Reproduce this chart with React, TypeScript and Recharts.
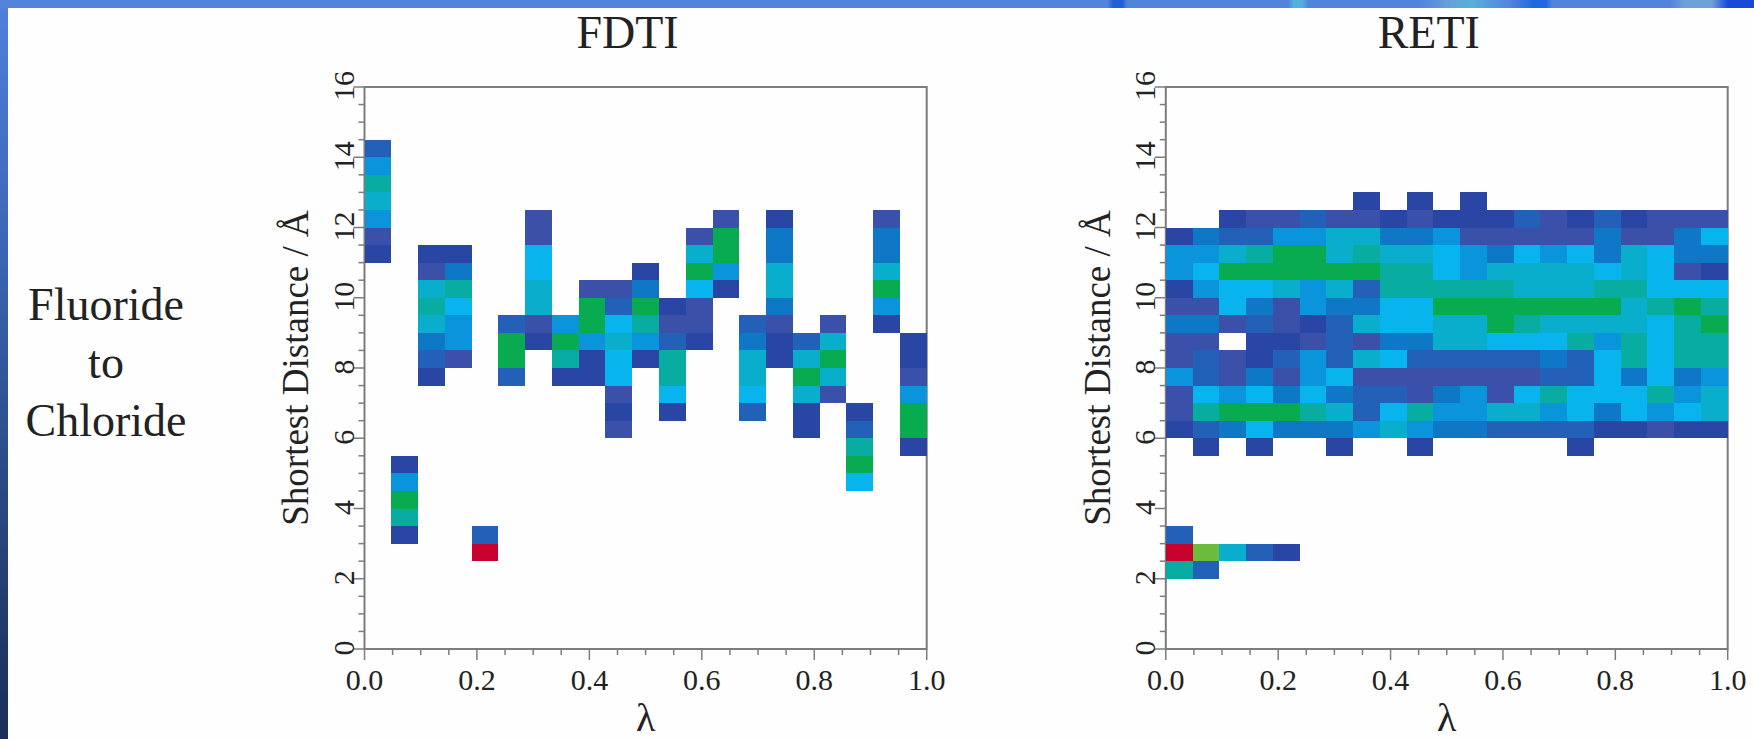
import React from "react";
import { ScatterChart, Scatter, XAxis, YAxis, ReferenceArea } from "recharts";

// levels: 1 = lowest population (dark blue) ... 9 = green, l = light green, r = red (highest)
const LEVEL_COLORS: Record<string, string> = {
  "1": "#2a46a4",
  "2": "#3b50a8",
  "3": "#2360b8",
  "4": "#0f78c6",
  "5": "#0a94dc",
  "6": "#08b4ee",
  "7": "#08aecb",
  "8": "#08aca0",
  "9": "#08ab50",
  l: "#6cbb3c",
  r: "#c8002e",
};

const BIN_COUNT = 21;
const BIN_HEIGHT = 0.5;

// FDTI, one entry per lambda window: top edge of the filled run, then levels going down
const FDTI_TOPS = [14.5, 5.5, 11.5, 11.5, 3.5, 9.5, 12.5, 9.5, 10.5, 10.5, 11, 10, 12, 12.5, 9.5, 12.5, 9, 9.5, 7, 12.5, 9];
const FDTI_RUNS = [
  "3587521",
  "15981",
  "12787431",
  "1486552",
  "3r",
  "3993",
  "22667721",
  "5981",
  "299511",
  "236766212",
  "149851",
  "1238861",
  "2796221",
  "29951",
  "347763",
  "144774211",
  "379711",
  "27972",
  "13896",
  "2447951",
  "1125991",
];

// RETI, one string per distance row from the top, one char per lambda window
const RETI_TOP = 13;
const RETI_ROWS = [
  ".......1.1.1.........",
  "..1223221211132131222",
  "143355774452222242246",
  "557899787765465647644",
  "569999998865777767621",
  "156675738888877788666",
  "226425446699999997898",
  "442321376677987777689",
  "22.112324477666858688",
  "232135376333334368688",
  "532425622222223364645",
  "265646433245268666857",
  "289998736855775646567",
  "134644457544333311211",
  ".1.1..1..1.....1.....",
  ".....................",
  ".....................",
  ".....................",
  ".....................",
  "3....................",
  "rl731................",
  "83...................",
];

const X_TICKS = [0, 0.05, 0.1, 0.15, 0.2, 0.25, 0.3, 0.35, 0.4, 0.45, 0.5, 0.55, 0.6, 0.65, 0.7, 0.75, 0.8, 0.85, 0.9, 0.95, 1];
const Y_TICKS = [0, 0.5, 1, 1.5, 2, 2.5, 3, 3.5, 4, 4.5, 5, 5.5, 6, 6.5, 7, 7.5, 8, 8.5, 9, 9.5, 10, 10.5, 11, 11.5, 12, 12.5, 13, 13.5, 14, 14.5, 15, 15.5, 16];
const SIDE_LABEL = ["Fluoride", "to", "Chloride"];

type Cell = { x: number; y: number; level: string };

const cell = (col: number, top: number, level: string): Cell => ({
  x: (col + 0.5) / BIN_COUNT,
  y: top - BIN_HEIGHT / 2,
  level,
});

const fdtiCells: Cell[] = FDTI_RUNS.flatMap((run, col) =>
  run.split("").map((level, i) => cell(col, FDTI_TOPS[col] - i * BIN_HEIGHT, level))
);
const retiCells: Cell[] = RETI_ROWS.flatMap((row, r) =>
  row
    .split("")
    .map((level, col) => cell(col, RETI_TOP - r * BIN_HEIGHT, level))
    .filter((c) => c.level !== ".")
);

const SERIF = "'Liberation Serif', serif";
const AXIS_GRAY = "#7c7c7c";
const TEXT = "#222222";
const CHART_H = 739;
const PLOT_TOP = 87;
const X_AXIS_H = 90;

function isMajor(v: number, step: number) {
  return Math.abs(v / step - Math.round(v / step)) < 1e-6;
}

function XTick({ x, y, payload }: any) {
  const major = isMajor(payload.value, 0.2);
  return (
    <g>
      <line x1={x} x2={x} y1={y} y2={y + (major ? 11 : 6)} stroke={AXIS_GRAY} strokeWidth={1.5} />
      {major && (
        <text x={x} y={y + 41} textAnchor="middle" fontFamily={SERIF} fontSize={30} fill={TEXT}>
          {payload.value.toFixed(1)}
        </text>
      )}
    </g>
  );
}

function YTick({ x, y, payload }: any) {
  const major = isMajor(payload.value, 2);
  return (
    <g>
      <line x1={x} x2={x - (major ? 11 : 6)} y1={y} y2={y} stroke={AXIS_GRAY} strokeWidth={1.5} />
      {major && (
        <text
          x={x - 11}
          y={y - 1}
          transform={`rotate(-90 ${x - 11} ${y - 1})`}
          textAnchor="middle"
          fontFamily={SERIF}
          fontSize={30}
          fill={TEXT}
        >
          {payload.value}
        </text>
      )}
    </g>
  );
}

function Panel({ title, cells, left, width, plotLeft, plotRight, labelOffset }: any) {
  const cellW = (plotRight - plotLeft) / BIN_COUNT;
  const cellH = ((CHART_H - PLOT_TOP - X_AXIS_H) / 16) * BIN_HEIGHT;
  const drawCell = ({ cx, cy, level }: any) => (
    <rect
      x={cx - cellW / 2}
      y={cy - cellH / 2}
      width={cellW}
      height={cellH}
      fill={LEVEL_COLORS[level]}
      shapeRendering="crispEdges"
    />
  );
  return (
    <div style={{ position: "absolute", left, top: 0 }}>
      <ScatterChart
        width={width}
        height={CHART_H}
        margin={{ top: PLOT_TOP, right: width - plotRight, bottom: 0, left: 0 }}
      >
        <XAxis
          type="number"
          dataKey="x"
          domain={[0, 1]}
          ticks={X_TICKS}
          interval={0}
          height={X_AXIS_H}
          axisLine={false}
          tickLine={false}
          tickSize={0}
          tickMargin={0}
          tick={<XTick />}
          label={{ value: "λ", position: "insideBottom", offset: 8, fontFamily: SERIF, fontSize: 40, fill: TEXT }}
        />
        <YAxis
          type="number"
          dataKey="y"
          domain={[0, 16]}
          ticks={Y_TICKS}
          interval={0}
          width={plotLeft}
          axisLine={false}
          tickLine={false}
          tickSize={0}
          tickMargin={0}
          tick={<YTick />}
          label={{
            value: "Shortest Distance / Å",
            angle: -90,
            position: "insideLeft",
            offset: labelOffset,
            style: { textAnchor: "middle" },
            fontFamily: SERIF,
            fontSize: 37,
            fill: TEXT,
          }}
        />
        <Scatter data={cells} shape={drawCell} isAnimationActive={false} />
        <ReferenceArea x1={0} x2={1} y1={0} y2={16} fill="none" stroke={AXIS_GRAY} strokeWidth={2} />
      </ScatterChart>
      <div
        style={{
          position: "absolute",
          top: 0,
          left: plotLeft - 18,
          width: plotRight - plotLeft,
          textAlign: "center",
          fontFamily: SERIF,
          fontSize: 46,
          lineHeight: "66px",
          color: TEXT,
        }}
      >
        {title}
      </div>
    </div>
  );
}

export default function App() {
  return (
    <div
      style={{
        position: "fixed",
        left: 0,
        top: 0,
        width: 1754,
        height: 739,
        overflow: "hidden",
        background: "#fefefe",
      }}
    >
      <div
        style={{
          position: "absolute",
          left: 0,
          top: 0,
          width: 8,
          height: 739,
          background: "linear-gradient(180deg, #4f80dc 0%, #3f68b8 30%, #2a4a86 65%, #1b2f58 100%)",
        }}
      />
      <div
        style={{
          position: "absolute",
          left: 0,
          top: 0,
          width: 1754,
          height: 8,
          background:
            "linear-gradient(90deg, #5384dc 0px, #5384dc 1108px, #1f5fd8 1113px, #1f5fd8 1122px, #5384dc 1127px, #5384dc 1288px, #55b0d8 1294px, #55b0d8 1302px, #5384dc 1308px, #5384dc 1420px, #66a0d8 1450px, #58b0d8 1470px, #5384dc 1510px, #1f68e0 1534px, #1f68e0 1546px, #5384dc 1552px, #5384dc 1670px, #6fa0d8 1685px, #6fa0d8 1712px, #1848d8 1728px, #1848d8 1754px)",
        }}
      />
      <div
        style={{
          position: "absolute",
          left: 24,
          top: 276,
          width: 164,
          textAlign: "center",
          fontFamily: SERIF,
          fontSize: 46,
          lineHeight: "58px",
          color: TEXT,
        }}
      >
        {SIDE_LABEL.map((s) => (
          <div key={s}>{s}</div>
        ))}
      </div>
      <Panel title="FDTI" cells={fdtiCells} left={270} width={680} plotLeft={94.5} plotRight={656.7} labelOffset={25} />
      <Panel title="RETI" cells={retiCells} left={1070} width={684} plotLeft={95.8} plotRight={657.7} labelOffset={27} />
    </div>
  );
}
